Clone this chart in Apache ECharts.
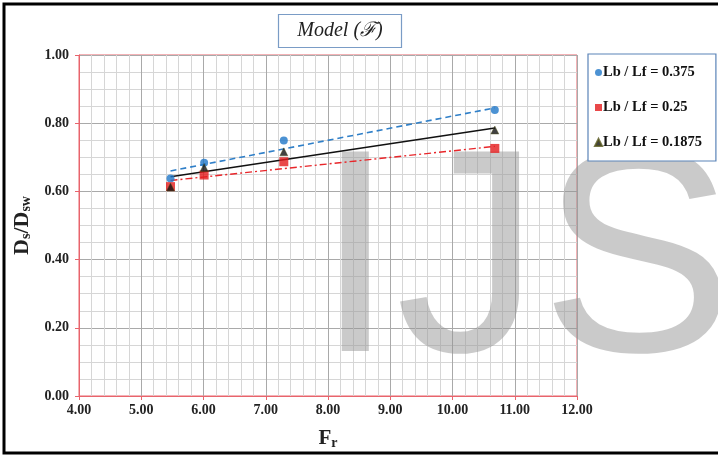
<!DOCTYPE html>
<html>
<head>
<meta charset="utf-8">
<script src="https://cdn.jsdelivr.net/npm/echarts@6/dist/echarts.min.js"></script>
<style>
  html, body { margin: 0; padding: 0; background: #fff; }
  #chart { width: 718px; height: 459px; }
</style>
</head>
<body>
<div id="chart"></div>
<script>
// Froude number of each run
const froude = [5.47, 6.01, 7.29, 10.68];

// Scour depth ratio Ds/Dsw for each blade/fin length ratio
const ratio0375 = [0.638, 0.684, 0.749, 0.839];
const ratio025 = [0.614, 0.648, 0.687, 0.726];
const ratio01875 = [0.613, 0.670, 0.716, 0.780];

// Linear trend line end points (first and last run)
const trendX = [5.47, 10.68];
const trend0375 = [0.660, 0.845];
const trend025 = [0.632, 0.732];
const trend01875 = [0.643, 0.786];

const seriesNames = ['Lb / Lf = 0.375', 'Lb / Lf = 0.25', 'Lb / Lf = 0.1875'];
const xTicks = [4, 5, 6, 7, 8, 9, 10, 11, 12];
const yTicks = [0, 0.2, 0.4, 0.6, 0.8, 1.0];

const pairs = (xs, ys) => xs.map((x, i) => [x, ys[i]]);

const serif = '"Liberation Serif", "DejaVu Serif", serif';
const red = '#e8646c';

const chart = echarts.init(document.getElementById('chart'));
chart.setOption({
  animation: false,
  backgroundColor: '#fff',
  grid: {
    left: 79, right: 141, top: 55, bottom: 63,
    show: true, borderColor: red, borderWidth: 1, backgroundColor: '#fff'
  },
  xAxis: {
    type: 'value',
    min: xTicks[0], max: xTicks[xTicks.length - 1], interval: 1,
    axisLine: { show: true, onZero: false, lineStyle: { color: red, width: 1 } },
    axisTick: { show: true, length: 4, lineStyle: { color: red } },
    axisLabel: {
      margin: 7, color: '#222', fontFamily: serif, fontWeight: 'bold', fontSize: 14,
      formatter: v => v.toFixed(2)
    },
    splitLine: { show: true, lineStyle: { color: '#a9a9a9', width: 1 } },
    minorTick: { show: false, splitNumber: 5 },
    minorSplitLine: { show: true, lineStyle: { color: '#d6d6d6', width: 1 } },
    name: '{a|F}{b|r}',
    nameLocation: 'middle',
    nameGap: 32,
    nameTextStyle: {
      rich: {
        a: { fontFamily: serif, fontWeight: 'bold', fontSize: 21, color: '#222' },
        b: { fontFamily: serif, fontWeight: 'bold', fontSize: 14, color: '#222', padding: [8, 0, 0, 0] }
      }
    }
  },
  yAxis: {
    type: 'value',
    min: yTicks[0], max: yTicks[yTicks.length - 1], interval: 0.2,
    axisLine: { show: true, onZero: false, lineStyle: { color: red, width: 1 } },
    axisTick: { show: true, length: 4, lineStyle: { color: red } },
    axisLabel: {
      margin: 10, color: '#222', fontFamily: serif, fontWeight: 'bold', fontSize: 14,
      formatter: v => v.toFixed(2)
    },
    splitLine: { show: true, lineStyle: { color: '#a9a9a9', width: 1 } },
    minorTick: { show: false, splitNumber: 4 },
    minorSplitLine: { show: true, lineStyle: { color: '#d6d6d6', width: 1 } },
    name: '{a|D}{b|s}{a|/D}{b|sw}',
    nameLocation: 'middle',
    nameRotate: 90,
    nameGap: 44,
    nameTextStyle: {
      rich: {
        a: { fontFamily: serif, fontWeight: 'bold', fontSize: 22, color: '#222' },
        b: { fontFamily: serif, fontWeight: 'bold', fontSize: 14, color: '#222', padding: [9, 0, 0, 0] }
      }
    }
  },
  legend: {
    orient: 'vertical',
    left: 588, top: 54,
    padding: [11, 14, 11, 6],
    itemGap: 20,
    itemWidth: 7, itemHeight: 7,
    borderColor: '#5b84b8', borderWidth: 1.2,
    backgroundColor: '#fff',
    textStyle: { fontFamily: serif, fontWeight: 'bold', fontSize: 14.5, color: '#111', padding: [0, 0, 0, -4] },
    data: [
      { name: seriesNames[0], icon: 'circle' },
      { name: seriesNames[1], icon: 'rect' },
      { name: seriesNames[2], icon: 'triangle' }
    ]
  },
  graphic: [
    {
      type: 'text', z: 1, silent: true,
      style: {
        text: 'IJS', x: 315, y: 416, align: 'left', verticalAlign: 'bottom',
        font: '290px "Liberation Sans", Arial, sans-serif', fill: 'rgba(150,150,150,0.5)'
      }
    },
    {
      type: 'rect', z: 10,
      shape: { x: 278.5, y: 14.5, width: 123, height: 33 },
      style: { fill: '#fff', stroke: '#7a9cc6', lineWidth: 1.2 }
    },
    {
      type: 'text', z: 11,
      style: {
        text: 'Model (ℱ)', x: 340, y: 31, align: 'center', verticalAlign: 'middle',
        font: 'italic 20px "Liberation Serif", "DejaVu Serif", serif', fill: '#222'
      }
    },
    {
      type: 'rect', z: 20, silent: true,
      shape: { x: 4, y: 4, width: 730, height: 449 },
      style: { fill: 'none', stroke: '#000', lineWidth: 3 }
    }
  ],
  series: [
    {
      name: seriesNames[0], type: 'scatter', z: 5,
      symbol: 'circle', symbolSize: 8,
      itemStyle: { color: '#1f77c8' },
      data: pairs(froude, ratio0375)
    },
    {
      name: seriesNames[1], type: 'scatter', z: 5,
      symbol: 'rect', symbolSize: 9,
      itemStyle: { color: '#e41a1c' },
      data: pairs(froude, ratio025)
    },
    {
      name: seriesNames[2], type: 'scatter', z: 6,
      symbol: 'triangle', symbolSize: 8,
      itemStyle: { color: '#111', borderColor: '#55551a', borderWidth: 0.5 },
      data: pairs(froude, ratio01875)
    },
    {
      name: 'trend0375', type: 'line', z: 4, symbol: 'none', silent: true,
      lineStyle: { color: '#2f7fc8', width: 1.6, type: [6, 4] },
      data: pairs(trendX, trend0375)
    },
    {
      name: 'trend025', type: 'line', z: 4, symbol: 'none', silent: true,
      lineStyle: { color: '#e8262a', width: 1.4, type: [7, 3, 2, 3] },
      data: pairs(trendX, trend025)
    },
    {
      name: 'trend01875', type: 'line', z: 4, symbol: 'none', silent: true,
      lineStyle: { color: '#111', width: 1.5 },
      data: pairs(trendX, trend01875)
    }
  ]
});
</script>
</body>
</html>
